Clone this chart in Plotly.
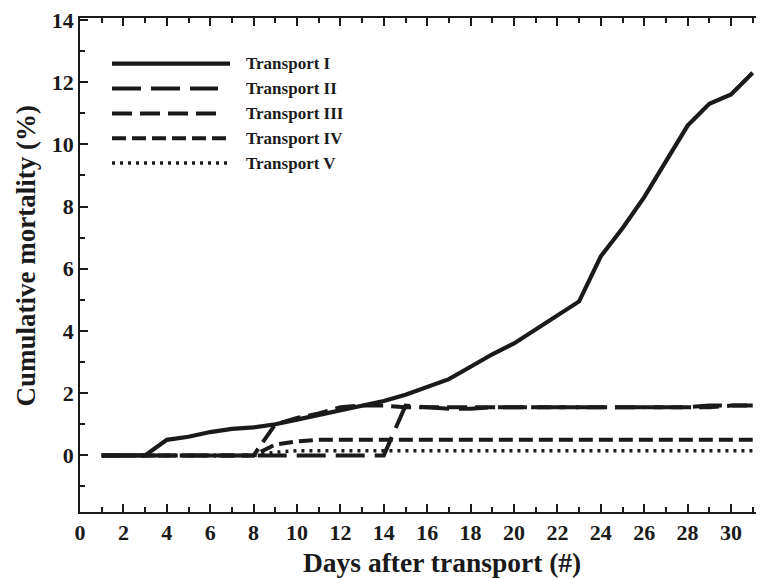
import plotly.graph_objects as go

days = list(range(1, 32))
transport_1 = [0, 0, 0, 0.5, 0.6, 0.75, 0.85, 0.9, 1.0, 1.15, 1.3, 1.45, 1.6, 1.75, 1.95, 2.2,
               2.45, 2.85, 3.25, 3.6, 4.05, 4.5, 4.95, 6.4, 7.3, 8.3, 9.45, 10.6, 11.3, 11.6, 12.3]
transport_2 = [0, 0, 0, 0, 0, 0, 0, 0, 0, 0, 0, 0, 0, 0, 1.6, 1.55,
               1.5, 1.5, 1.55, 1.55, 1.55, 1.55, 1.55, 1.55, 1.55, 1.55, 1.55, 1.55, 1.6, 1.6, 1.6]
transport_3 = [0, 0, 0, 0, 0, 0, 0, 0, 1.0, 1.2, 1.35, 1.55, 1.6, 1.6, 1.55, 1.55,
               1.55, 1.55, 1.55, 1.55, 1.55, 1.55, 1.55, 1.55, 1.55, 1.55, 1.55, 1.55, 1.55, 1.6, 1.6]
transport_4 = [0, 0, 0, 0, 0, 0, 0, 0, 0.35, 0.45, 0.5, 0.5, 0.5, 0.5, 0.5, 0.5,
               0.5, 0.5, 0.5, 0.5, 0.5, 0.5, 0.5, 0.5, 0.5, 0.5, 0.5, 0.5, 0.5, 0.5, 0.5]
transport_5 = [0, 0, 0, 0, 0, 0, 0, 0, 0.1, 0.15, 0.15, 0.15, 0.15, 0.15, 0.15, 0.15,
               0.15, 0.15, 0.15, 0.15, 0.15, 0.15, 0.15, 0.15, 0.15, 0.15, 0.15, 0.15, 0.15, 0.15, 0.15]

names = ["Transport I", "Transport II", "Transport III", "Transport IV", "Transport V"]
series = [transport_1, transport_2, transport_3, transport_4, transport_5]
dashes = ["solid", "29px,10px", "20px,8px", "14px,6px", "3px,5px"]
widths = [4.2, 4, 4, 4, 3.5]

x_ticks = list(range(0, 31, 2))
y_ticks = list(range(0, 15, 2))

FONT = "Liberation Serif"
INK = "#1a1a1a"

fig = go.Figure()
for name, ys, d, w in zip(names, series, dashes, widths):
    fig.add_trace(go.Scatter(x=days, y=ys, mode="lines", name=name,
                             line=dict(color=INK, width=w, dash=d),
                             showlegend=False))

# plot area in page pixels: left 80, right 764, top 15, bottom 512
PL, PB, PW, PH = 80.0, 512.0, 684.0, 497.0

def px(x):
    return (x - PL) / PW

def py(y):
    return (PB - y) / PH

# manual legend (long line samples)
row_y = [61, 86, 111, 136, 161]
sample_end = [230, 218, 224, 230, 228]
for name, d, w, ry, se in zip(names, dashes, widths, row_y, sample_end):
    fig.add_shape(type="line", xref="paper", yref="paper",
                  x0=px(112), x1=px(se), y0=py(ry), y1=py(ry),
                  line=dict(color=INK, width=w, dash=d))
    fig.add_annotation(xref="paper", yref="paper", x=px(244), y=py(ry),
                       xanchor="left", yanchor="middle", text=name, showarrow=False,
                       font=dict(family=FONT, size=17, color=INK, weight="bold"))

# axis titles
fig.add_annotation(xref="paper", yref="paper", x=px(442), y=py(563),
                   xanchor="center", yanchor="middle", showarrow=False,
                   text="Days after transport (#)",
                   font=dict(family=FONT, size=27.5, color=INK, weight="bold"))
fig.add_annotation(xref="paper", yref="paper", x=px(26), y=py(255),
                   xanchor="center", yanchor="middle", showarrow=False, textangle=-90,
                   text="Cumulative mortality (%)",
                   font=dict(family=FONT, size=27, color=INK, weight="bold"))

# page body has an 8px margin, so the figure is offset by 8px
fig.update_layout(
    width=756, height=570,
    margin=dict(l=72, r=0, t=7, b=66),
    plot_bgcolor="white", paper_bgcolor="white",
    xaxis=dict(range=[0, 31.52], tickvals=x_ticks, ticks="inside", ticklen=8, tickwidth=1.5,
               tickcolor=INK, showline=True, linecolor=INK, linewidth=1.5,
               mirror="ticks", showgrid=False, zeroline=False, ticklabeloverflow="allow",
               minor=dict(ticks="inside", ticklen=5, dtick=1, tick0=0, tickcolor=INK, tickwidth=1.5),
               tickfont=dict(family=FONT, size=22, color=INK, weight="bold")),
    yaxis=dict(range=[-1.82, 14.06], tickvals=y_ticks, ticks="inside", ticklen=8, tickwidth=1.5,
               tickcolor=INK, showline=True, linecolor=INK, linewidth=1.5,
               mirror=False, showgrid=False, zeroline=False, ticklabeloverflow="allow",
               minor=dict(ticks="inside", ticklen=5, dtick=1, tick0=0, tickcolor=INK, tickwidth=1.5),
               tickfont=dict(family=FONT, size=22, color=INK, weight="bold")),
)

fig.write_html("out.html")
